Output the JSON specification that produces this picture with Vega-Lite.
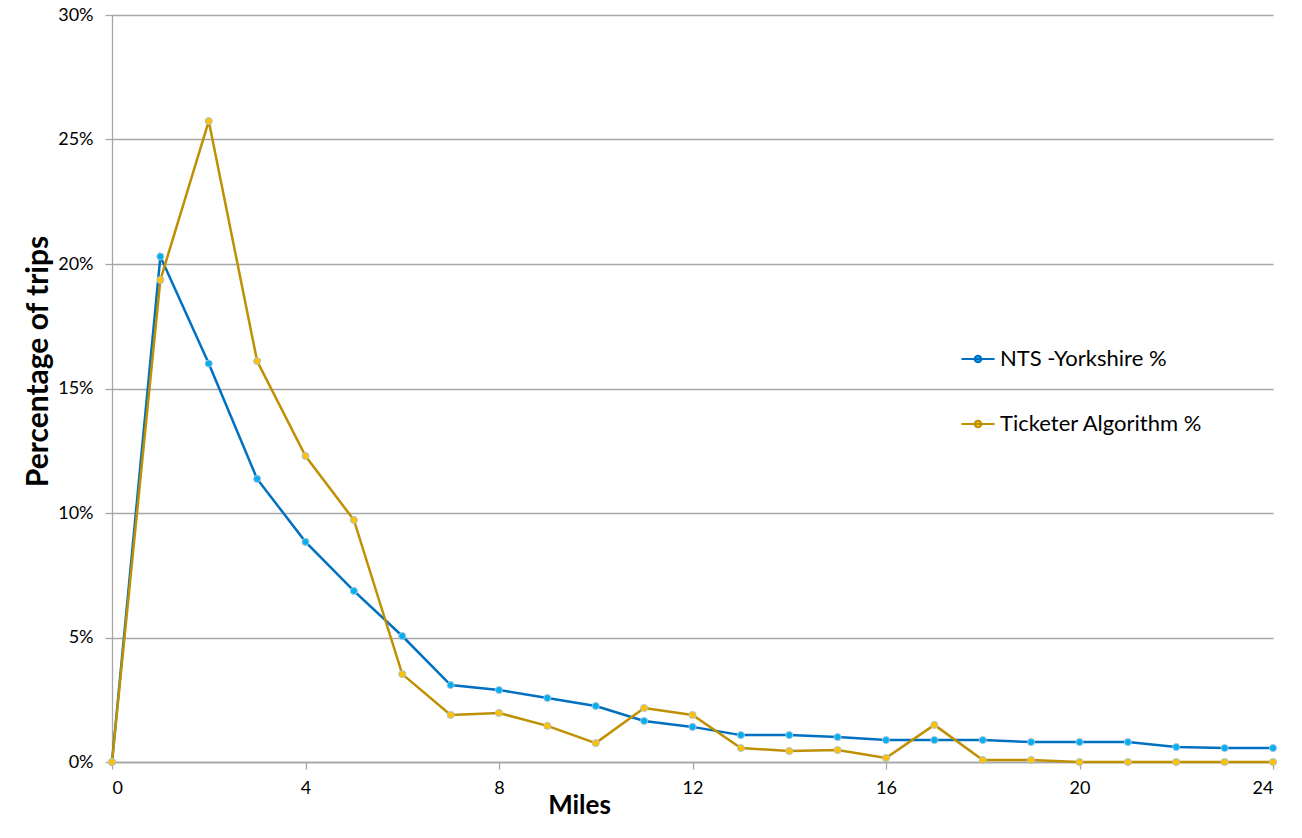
{
  "$schema": "https://vega.github.io/schema/vega-lite/v6.json",
  "width": 1161,
  "height": 747,
  "autosize": {"type": "none"},
  "padding": {"left": 112, "top": 15, "right": 29, "bottom": 76},
  "background": "white",
  "config": {
    "font": "Lato",
    "view": {"stroke": null},
    "axis": {
      "labelFont": "Lato",
      "labelFontSize": 18,
      "labelColor": "#000000",
      "titleFont": "Lato",
      "titleColor": "#000000",
      "titleFontWeight": "bold",
      "domainColor": "#a6a6a6",
      "tickColor": "#a6a6a6",
      "gridColor": "#a6a6a6",
      "domainWidth": 1.3,
      "gridWidth": 1.3,
      "tickWidth": 1.3
    },
    "legend": {"labelFont": "Lato", "labelFontSize": 22, "labelColor": "#000000", "labelLimit": 0}
  },
  "data": {
    "values": [
      {"miles": 0, "series": "NTS -Yorkshire %", "pct": 0.0},
      {"miles": 1, "series": "NTS -Yorkshire %", "pct": 0.203},
      {"miles": 2, "series": "NTS -Yorkshire %", "pct": 0.160},
      {"miles": 3, "series": "NTS -Yorkshire %", "pct": 0.1137},
      {"miles": 4, "series": "NTS -Yorkshire %", "pct": 0.0884},
      {"miles": 5, "series": "NTS -Yorkshire %", "pct": 0.0687},
      {"miles": 6, "series": "NTS -Yorkshire %", "pct": 0.0506},
      {"miles": 7, "series": "NTS -Yorkshire %", "pct": 0.0309},
      {"miles": 8, "series": "NTS -Yorkshire %", "pct": 0.0289},
      {"miles": 9, "series": "NTS -Yorkshire %", "pct": 0.0257},
      {"miles": 10, "series": "NTS -Yorkshire %", "pct": 0.0225},
      {"miles": 11, "series": "NTS -Yorkshire %", "pct": 0.0165},
      {"miles": 12, "series": "NTS -Yorkshire %", "pct": 0.0141},
      {"miles": 13, "series": "NTS -Yorkshire %", "pct": 0.0108},
      {"miles": 14, "series": "NTS -Yorkshire %", "pct": 0.0108},
      {"miles": 15, "series": "NTS -Yorkshire %", "pct": 0.0100},
      {"miles": 16, "series": "NTS -Yorkshire %", "pct": 0.0088},
      {"miles": 17, "series": "NTS -Yorkshire %", "pct": 0.0088},
      {"miles": 18, "series": "NTS -Yorkshire %", "pct": 0.0088},
      {"miles": 19, "series": "NTS -Yorkshire %", "pct": 0.0080},
      {"miles": 20, "series": "NTS -Yorkshire %", "pct": 0.0080},
      {"miles": 21, "series": "NTS -Yorkshire %", "pct": 0.0080},
      {"miles": 22, "series": "NTS -Yorkshire %", "pct": 0.0060},
      {"miles": 23, "series": "NTS -Yorkshire %", "pct": 0.0056},
      {"miles": 24, "series": "NTS -Yorkshire %", "pct": 0.0056},
      {"miles": 0, "series": "Ticketer Algorithm %", "pct": 0.0},
      {"miles": 1, "series": "Ticketer Algorithm %", "pct": 0.1936},
      {"miles": 2, "series": "Ticketer Algorithm %", "pct": 0.2574},
      {"miles": 3, "series": "Ticketer Algorithm %", "pct": 0.161},
      {"miles": 4, "series": "Ticketer Algorithm %", "pct": 0.1229},
      {"miles": 5, "series": "Ticketer Algorithm %", "pct": 0.0972},
      {"miles": 6, "series": "Ticketer Algorithm %", "pct": 0.0353},
      {"miles": 7, "series": "Ticketer Algorithm %", "pct": 0.0189},
      {"miles": 8, "series": "Ticketer Algorithm %", "pct": 0.0197},
      {"miles": 9, "series": "Ticketer Algorithm %", "pct": 0.0145},
      {"miles": 10, "series": "Ticketer Algorithm %", "pct": 0.0076},
      {"miles": 11, "series": "Ticketer Algorithm %", "pct": 0.0217},
      {"miles": 12, "series": "Ticketer Algorithm %", "pct": 0.0189},
      {"miles": 13, "series": "Ticketer Algorithm %", "pct": 0.0056},
      {"miles": 14, "series": "Ticketer Algorithm %", "pct": 0.0044},
      {"miles": 15, "series": "Ticketer Algorithm %", "pct": 0.0048},
      {"miles": 16, "series": "Ticketer Algorithm %", "pct": 0.0016},
      {"miles": 17, "series": "Ticketer Algorithm %", "pct": 0.0149},
      {"miles": 18, "series": "Ticketer Algorithm %", "pct": 0.0008},
      {"miles": 19, "series": "Ticketer Algorithm %", "pct": 0.0008},
      {"miles": 20, "series": "Ticketer Algorithm %", "pct": 0.0},
      {"miles": 21, "series": "Ticketer Algorithm %", "pct": 0.0},
      {"miles": 22, "series": "Ticketer Algorithm %", "pct": 0.0},
      {"miles": 23, "series": "Ticketer Algorithm %", "pct": 0.0},
      {"miles": 24, "series": "Ticketer Algorithm %", "pct": 0.0}
    ]
  },
  "encoding": {
    "x": {
      "field": "miles",
      "type": "quantitative",
      "scale": {"domain": [0, 24], "nice": false},
      "axis": {
        "values": [0, 4, 8, 12, 16, 20, 24],
        "grid": false,
        "tickSize": 7,
        "labelPadding": 10,
        "title": "Miles",
        "titleFontSize": 26,
        "titleX": 467,
        "titleY": 43,
        "titleBaseline": "middle"
      }
    },
    "y": {
      "field": "pct",
      "type": "quantitative",
      "scale": {"domain": [0, 0.3], "nice": false},
      "axis": {
        "values": [0, 0.05, 0.1, 0.15, 0.2, 0.25, 0.3],
        "format": ".0%",
        "tickSize": 7,
        "labelPadding": 12,
        "title": "Percentage of trips",
        "titleFontSize": 30,
        "titleX": -74,
        "titleY": 346,
        "titleBaseline": "middle",
        "titleAngle": -90
      }
    }
  },
  "layer": [
    {
      "mark": {"type": "line", "strokeWidth": 2.5},
      "encoding": {
        "stroke": {
          "field": "series",
          "type": "nominal",
          "scale": {
            "domain": ["NTS -Yorkshire %", "Ticketer Algorithm %"],
            "range": ["#0070c0", "#bf9000"]
          },
          "legend": {
            "title": null,
            "orient": "none",
            "legendX": 848,
            "legendY": 326,
            "symbolType": "M-1,0H1M-0.2,0A0.2,0.2 0 1,1 0.2,0A0.2,0.2 0 1,1 -0.2,0",
            "symbolSize": 1100,
            "symbolStrokeWidth": 2,
            "labelOffset": 4,
            "rowPadding": 36
          }
        }
      }
    },
    {
      "mark": {"type": "point", "filled": true, "size": 50, "stroke": "#a9c4dc", "strokeWidth": 1, "opacity": 1},
      "encoding": {
        "fill": {
          "field": "series",
          "type": "nominal",
          "scale": {
            "domain": ["NTS -Yorkshire %", "Ticketer Algorithm %"],
            "range": ["#00b0f0", "#ffc000"]
          },
          "legend": null
        }
      }
    }
  ]
}
